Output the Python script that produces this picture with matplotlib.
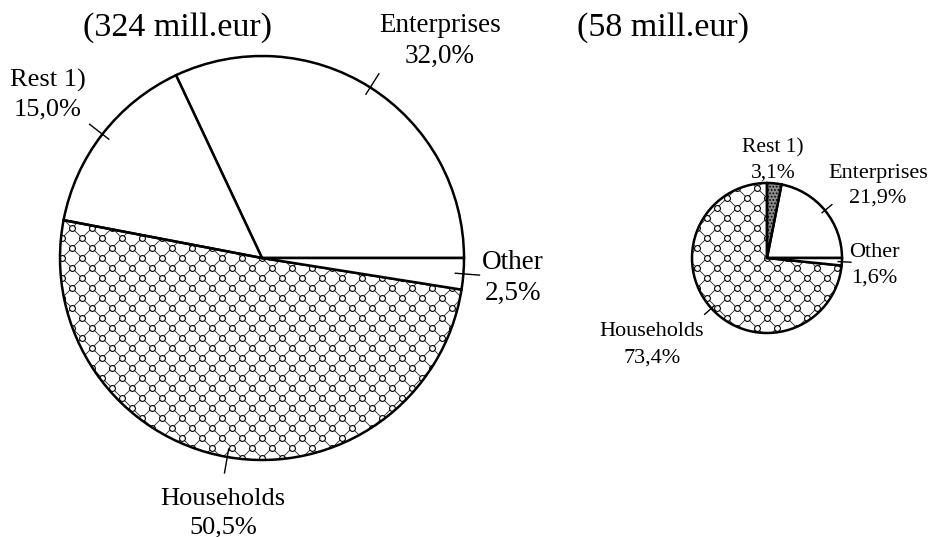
import matplotlib
matplotlib.use("Agg")
import matplotlib.pyplot as plt
from matplotlib.collections import LineCollection
import numpy as np

plt.rcParams['font.family'] = ['Liberation Serif', 'DejaVu Serif']
plt.rcParams['hatch.linewidth'] = 0.8

categories = ["Enterprises", "Rest 1)", "Households", "Other"]
left_values = [32.0, 15.0, 50.5, 2.5]
right_values = [21.9, 3.1, 73.4, 1.6]
left_title = "(324 mill.eur)"
right_title = "(58 mill.eur)"

W, H = 932, 537
fig = plt.figure(figsize=(W / 100, H / 100), dpi=100)
ax = fig.add_axes([0, 0, 1, 1])


def py(y):
    return H - y


def pattern(wedge, cx, cy, r, step=20):
    # diagonal cross lines with small rings at the crossings, clipped to the wedge
    X, Y = cx, py(cy)
    n = int(np.ceil(2 * r / step)) + 2
    ext = r + step
    segs = []
    for k in range(-n, n + 1):
        c = k * step
        segs.append([(X - ext, Y + c - ext), (X + ext, Y + c + ext)])
        segs.append([(X - ext, Y + c + ext), (X + ext, Y + c - ext)])
    lc = LineCollection(segs, colors='#222222', linewidths=0.6, zorder=0.5)
    ax.add_collection(lc)
    lc.set_clip_path(wedge)
    half = step // 2
    m_n = int(np.ceil(r / half)) + 1
    xs, ys = [], []
    for i in range(-m_n, m_n + 1):
        for j in range(-m_n, m_n + 1):
            if (i + j) % 2 == 0:
                xs.append(X + i * half)
                ys.append(Y + j * half)
    (m,) = ax.plot(xs, ys, 'o', ms=4.2, mfc='white', mec='black', mew=0.8, zorder=0.6)
    m.set_clip_path(wedge)


def draw_pie(values, cx, cy, r, colors, hatches):
    wedges, _ = ax.pie(values, startangle=0, counterclock=True, center=(cx, py(cy)),
                       radius=r, colors=colors, frame=True,
                       wedgeprops=dict(edgecolor='black', linewidth=1.8))
    for w, h in zip(wedges, hatches):
        if h == 'pattern':
            w.set_facecolor('none')
            pattern(w, cx, cy, r)
        elif h:
            w.set_hatch(h)
    return wedges


def leader(w, cx, cy, r, r0=0.96, r1=1.08):
    a = np.deg2rad((w.theta1 + w.theta2) / 2)
    ax.plot([cx + r * r0 * np.cos(a), cx + r * r1 * np.cos(a)],
            [py(cy) + r * r0 * np.sin(a), py(cy) + r * r1 * np.sin(a)],
            color='black', lw=1.0)


# Left pie
lcx, lcy, lr = 262, 258, 202
lw_ = draw_pie(left_values, lcx, lcy, lr, ['white'] * 4, [None, None, 'pattern', None])
for w in lw_:
    leader(w, lcx, lcy, lr)

# Right pie
rcx, rcy, rr = 767, 258, 75
rw_ = draw_pie(right_values, rcx, rcy, rr, ['white', '#8c8c8c', 'white', 'white'],
               [None, '.....', 'pattern', None])
for i, w in enumerate(rw_):
    if i != 1:
        leader(w, rcx, rcy, rr, 0.95, 1.12)

ax.set_xlim(0, W)
ax.set_ylim(0, H)
ax.set_aspect('equal')
ax.axis('off')


def fmt(v):
    return f"{v:.1f}%".replace('.', ',')


ax.text(83, py(36), left_title, fontsize=24.5, ha='left', va='baseline')
ax.text(577, py(36), right_title, fontsize=24.5, ha='left', va='baseline')

# Left labels: (x centre, baseline line1, baseline line2, fontsize)
left_pos = [(440, 32, 63, 19.5), (48, 87, 115, 19), (223, 505, 533, 19), (513, 269, 300, 19.5)]
for c, v, (x, b1, b2, fs) in zip(categories, left_values, left_pos):
    ax.text(x, py(b1), c, fontsize=fs, ha='center', va='baseline')
    ax.text(x, py(b2), fmt(v), fontsize=fs, ha='center', va='baseline')

# Right labels
right_pos = [(878, 178, 203, 16), (773, 152, 178, 15.5), (652, 336, 363, 16), (874, 257, 283, 16)]
for c, v, (x, b1, b2, fs) in zip(categories, right_values, right_pos):
    ax.text(x, py(b1), c, fontsize=fs, ha='center', va='baseline')
    ax.text(x, py(b2), fmt(v), fontsize=fs, ha='center', va='baseline')

fig.savefig("out.png", dpi=100)
